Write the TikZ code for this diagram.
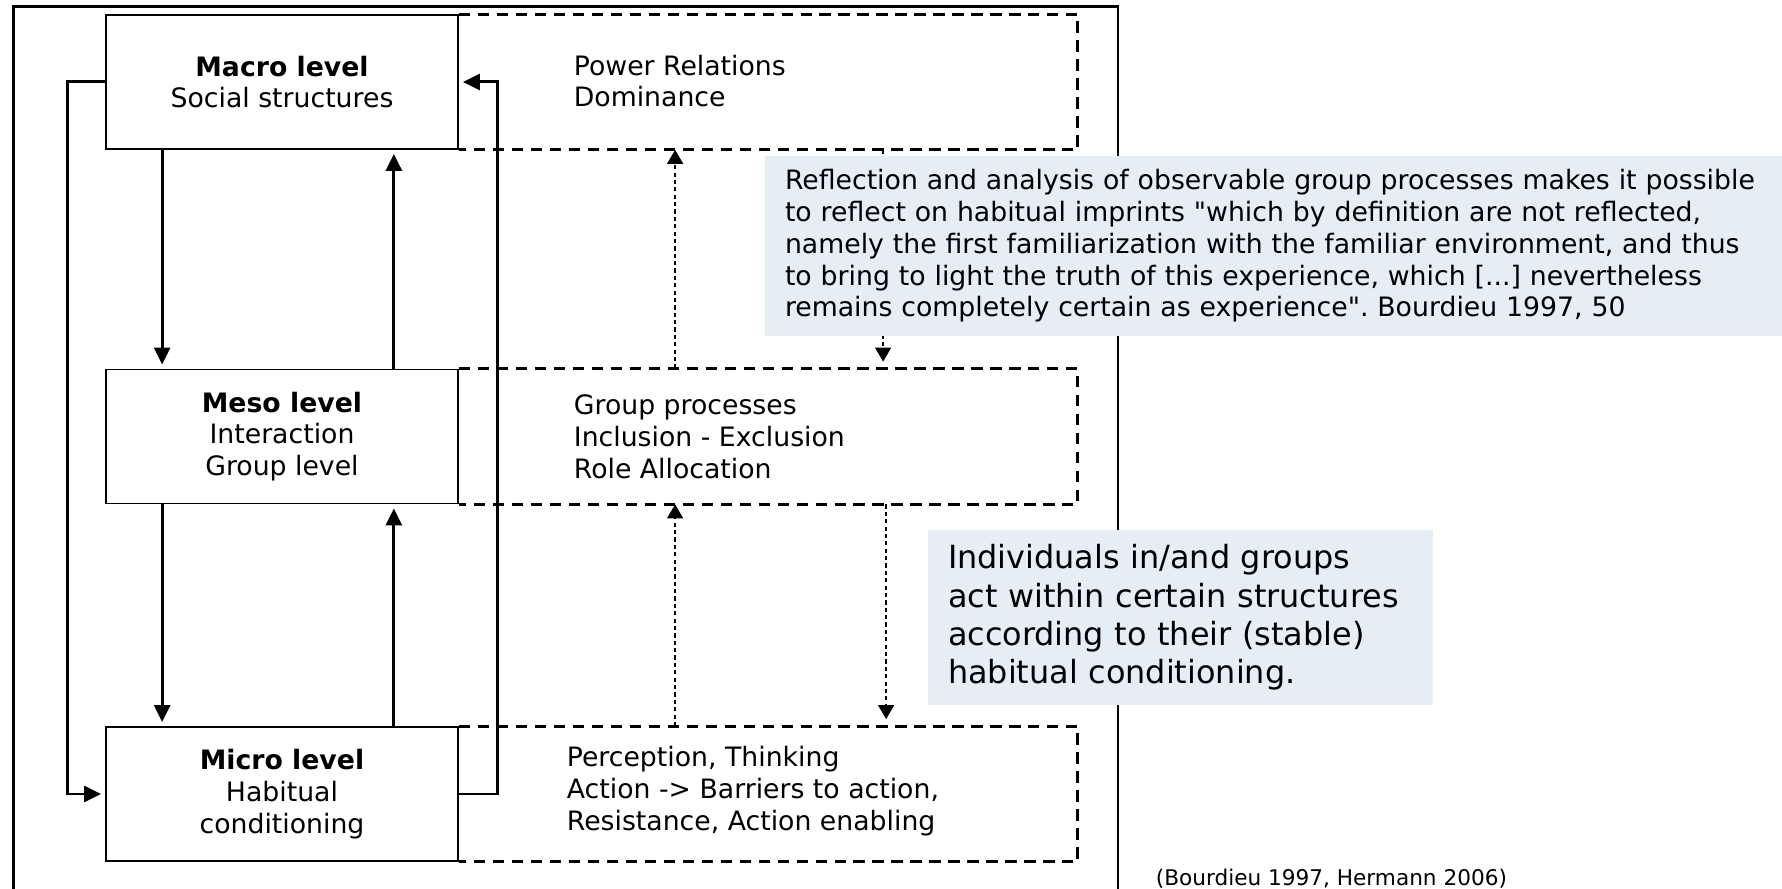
\documentclass[tikz,border=0pt]{standalone}
\usepackage{fontspec}
\setmainfont{DejaVu Sans}
\usepackage{tikz}
\usetikzlibrary{arrows.meta}
\definecolor{noteblue}{RGB}{229,237,245}
\frenchspacing
\tikzset{
	% ---- default
	every path/.style={line width=0.5pt},
	every node/.style={font=\fontsize{7.6}{9.05}\selectfont},
	% ---- custom
	frame/.style={line width=0.8pt},
	levelbox/.style={draw, line width=0.5pt, minimum width=35.2mm, minimum height=13.4mm, inner sep=0pt, align=center},
	region/.style={minimum width=61.9mm, minimum height=13.4mm, inner sep=0pt},
	region line/.style={line width=0.8pt, dash pattern=on 3.2pt off 2.2pt},
	region text/.style={anchor=west, align=left, inner sep=0pt},
	flow/.style={line width=0.85pt, -{Triangle[length=1.7mm, width=1.6mm]}, shorten >=0.4mm},
	reflection/.style={line width=0.4pt, dash pattern=on 1.2pt off 0.9pt, -{Triangle[length=1.4mm, width=1.6mm]}},
	notebox/.style={fill=noteblue, inner xsep=2mm, inner ysep=0pt, align=left},
}

\begin{document}
\begin{tikzpicture}[x=0.1mm, y=-0.1mm]

% coordinates %{{{2

	\useasboundingbox (0,0) rectangle (1782,889);

	\coordinate (F1) at (13.6,889);
	\coordinate (F2) at (13.6,6.8);
	\coordinate (F3) at (1118,6.8);
	\coordinate (F4) at (1118,889);

% frame %{{{2

	\draw[frame] (F1) -- (F2) -- (F3) -- (F4);

% levels %{{{2

	\node[levelbox] (macro) at (282,82) {\textbf{Macro level}\\Social structures};
	\node[levelbox] (meso) at (282,436.5) {\textbf{Meso level}\\Interaction\\Group level};
	\node[levelbox] (micro) at (282,794) {\textbf{Micro level}\\Habitual\\conditioning};

% regions %{{{2

	\node[region] (macroreg) at (767.5,82) {};
	\node[region] (mesoreg) at (767.5,436.5) {};
	\node[region] (microreg) at (767.5,794) {};

	\draw[region line] (macro.north east) -- (macroreg.north east) -- (macroreg.south east) -- (macro.south east);
	\draw[region line] (meso.north east) -- (mesoreg.north east) -- (mesoreg.south east) -- (meso.south east);
	\draw[region line] (micro.north east) -- (microreg.north east) -- (microreg.south east) -- (micro.south east);

	\node[region text] (powertext) at (573,81) {Power Relations\\Dominance};
	\node[region text] (grouptext) at (573,436.5) {Group processes\\Inclusion - Exclusion\\Role Allocation};
	\node[region text] (actiontext) at (566,791) {Perception, Thinking\\Action -> Barriers to action,\\Resistance, Action enabling};

% arrows between levels %{{{2

	\draw[flow] ([xshift=5.7mm]macro.south west) -- ([xshift=5.7mm]meso.north west);
	\draw[flow] ([xshift=5.7mm]meso.south west) -- ([xshift=5.7mm]micro.north west);
	\draw[flow] ([xshift=-6.5mm]meso.north east) -- ([xshift=-6.5mm]macro.south east);
	\draw[flow] ([xshift=-6.5mm]micro.north east) -- ([xshift=-6.5mm]meso.south east);

	\draw[flow] (macro.west) -- ++(-38,0) |- (micro.west);
	\draw[flow] (micro.east) -- ++(39,0) |- (macro.east);

% reflection arrows %{{{2

	\draw[reflection] ([xshift=21.8mm]mesoreg.north west) -- ([xshift=21.8mm]macroreg.south west);
	\draw[reflection] ([xshift=21.8mm]microreg.north west) -- ([xshift=21.8mm]mesoreg.south west);
	\draw[reflection, shorten >=0.7mm] ([xshift=42.6mm]macroreg.south west) -- ([xshift=42.6mm]mesoreg.north west);
	\draw[reflection, shorten >=0.7mm] ([xshift=42.9mm]mesoreg.south west) -- ([xshift=42.9mm]microreg.north west);

% notes %{{{2

	\node[notebox, text width=97.7mm, minimum height=18.06mm] (reflectnote) at (1273.5,246)
	{Reflection and analysis of observable group processes makes it possible\\
	to reflect on habitual imprints \textquotedbl which by definition are not reflected,\\
	namely the first familiarization with the familiar environment, and thus\\
	to bring to light the truth of this experience, which [...] nevertheless\\
	remains completely certain as experience\textquotedbl. Bourdieu 1997, 50};

	\node[notebox, text width=46.5mm, minimum height=17.5mm, font=\fontsize{9.07}{10.9}\selectfont] (actnote) at (1180.5,617.5)
	{Individuals in/and groups\\act within certain structures\\according to their (stable)\\habitual conditioning.};

	\node[anchor=west, inner sep=0pt, font=\fontsize{6.15}{7.4}\selectfont] (source) at (1155,879) {(Bourdieu 1997, Hermann 2006)};

% closing %{{{2

\end{tikzpicture}
\end{document}
